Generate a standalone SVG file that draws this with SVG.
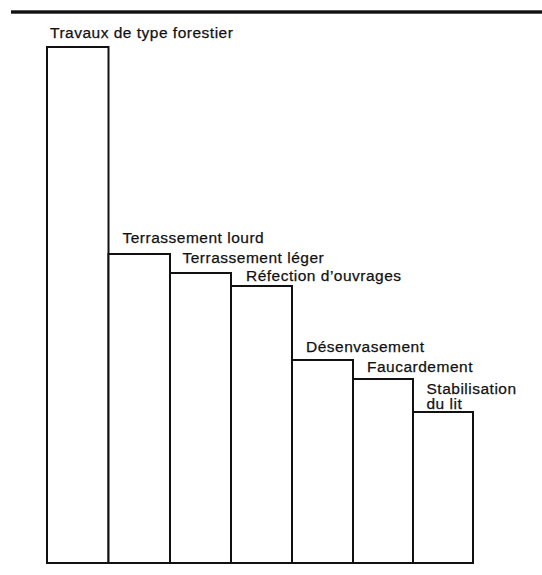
<svg xmlns="http://www.w3.org/2000/svg" width="542" height="575" viewBox="0 0 542 575">
<style>
.bar{fill:#fff;stroke:#111;stroke-width:2;stroke-linejoin:miter}
.lbl{font-family:"Liberation Sans",Arial,sans-serif;font-size:15.5px;letter-spacing:0.5px;fill:#111;stroke:#111;stroke-width:0.25}
</style>
<rect x="0" y="0" width="542" height="575" fill="#fff"/>
<rect id="top-rule" x="11" y="10.3" width="531" height="3.4" fill="#111"/>
<g id="bar1"><rect class="bar" x="47" y="47" width="61.5" height="516"/><text class="lbl" x="50" y="38">Travaux de type forestier</text></g>
<g id="bar2"><rect class="bar" x="108.5" y="254" width="61.5" height="309"/><text class="lbl" x="122.5" y="243">Terrassement lourd</text></g>
<g id="bar3"><rect class="bar" x="170" y="273" width="61" height="290"/><text class="lbl" x="182.5" y="262.5">Terrassement léger</text></g>
<g id="bar4"><rect class="bar" x="231" y="286" width="61" height="277"/><text class="lbl" x="246" y="281">Réfection d’ouvrages</text></g>
<g id="bar5"><rect class="bar" x="292" y="360" width="61" height="203"/><text class="lbl" x="306" y="352">Désenvasement</text></g>
<g id="bar6"><rect class="bar" x="353" y="379" width="60" height="184"/><text class="lbl" x="367" y="372">Faucardement</text></g>
<g id="bar7"><rect class="bar" x="413" y="412" width="60" height="151"/><text class="lbl" x="426.5" y="393.5"><tspan x="426.5" y="393.5">Stabilisation</tspan><tspan x="426.5" y="408.5">du lit</tspan></text></g>
</svg>
